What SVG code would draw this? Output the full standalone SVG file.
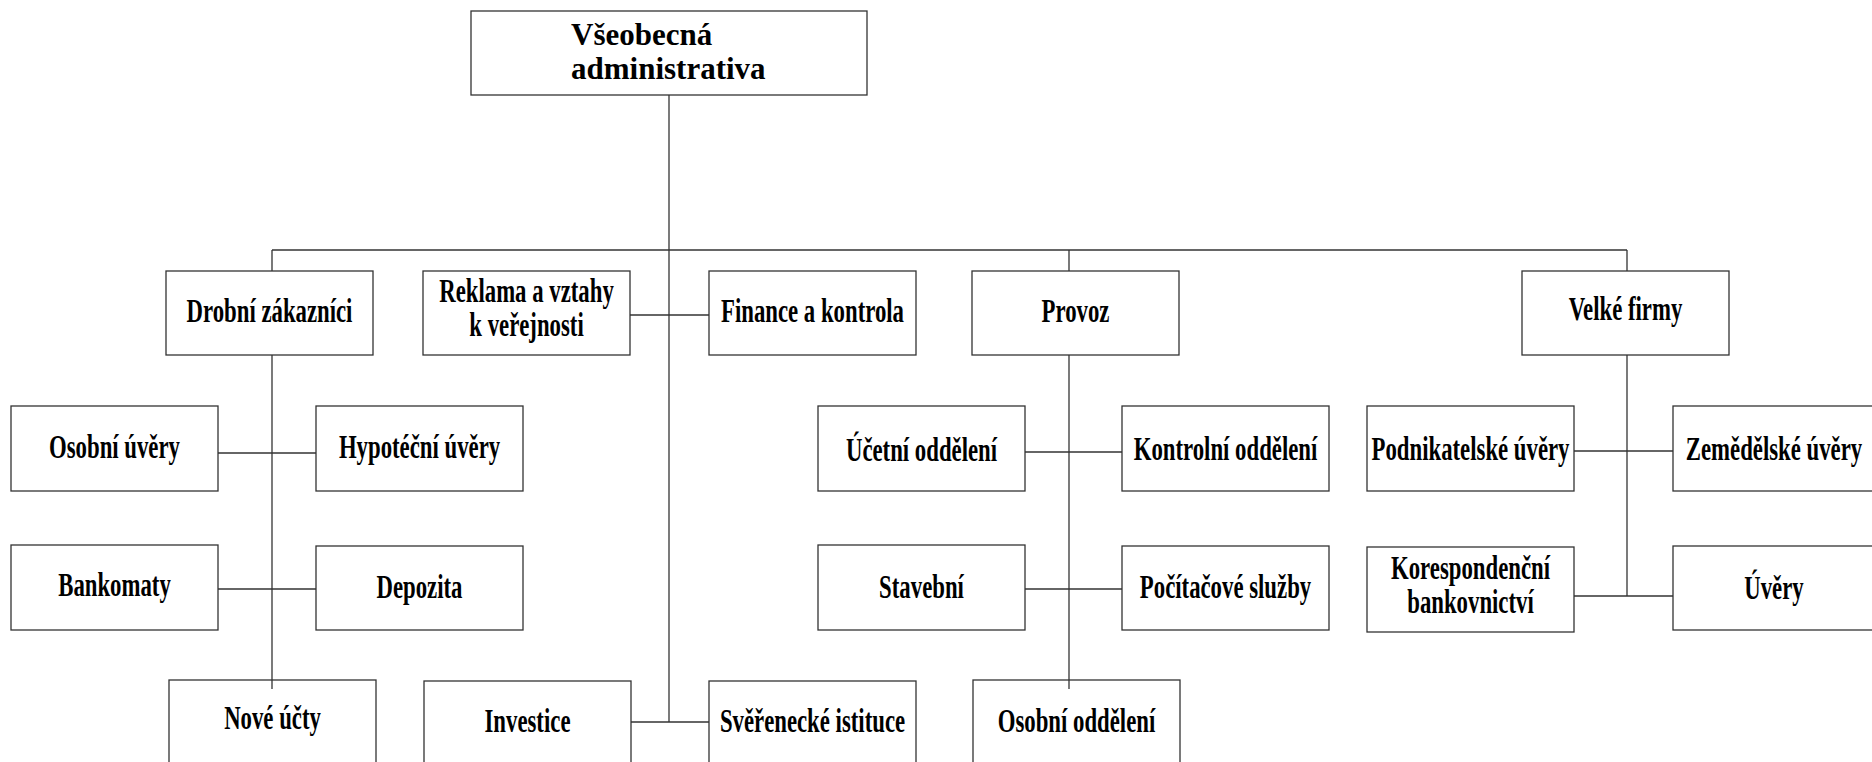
<svg xmlns="http://www.w3.org/2000/svg" width="1872" height="762" viewBox="0 0 1872 762">
<style>
.box{fill:#fff;stroke:#333;stroke-width:1.3}
.t{font-family:"Liberation Serif","Times New Roman",serif;font-weight:bold;font-size:33px;text-anchor:middle;fill:#000}
.tt{font-family:"Liberation Serif","Times New Roman",serif;font-weight:bold;font-size:31px;fill:#000}
.c{fill:none;stroke:#333;stroke-width:1.3}
</style>
<rect width="1872" height="762" fill="#fff"/>
<g id="n-vseobecna"><rect class="box" x="471" y="11" width="396" height="84"/><text class="tt" x="571" y="45">Všeobecná</text><text class="tt" x="571" y="79">administrativa</text></g>
<g id="n-drobni"><rect class="box" x="166" y="271" width="207" height="84"/><text class="t" transform="translate(269.5,322) scale(0.69,1)">Drobní zákazníci</text></g>
<g id="n-reklama"><rect class="box" x="423" y="271" width="207" height="84"/><text class="t" transform="translate(526.5,302) scale(0.69,1)">Reklama a vztahy</text><text class="t" transform="translate(526.5,336) scale(0.69,1)">k veřejnosti</text></g>
<g id="n-finance"><rect class="box" x="709" y="271" width="207" height="84"/><text class="t" transform="translate(812.5,322) scale(0.69,1)">Finance a kontrola</text></g>
<g id="n-provoz"><rect class="box" x="972" y="271" width="207" height="84"/><text class="t" transform="translate(1075.5,322) scale(0.69,1)">Provoz</text></g>
<g id="n-velke"><rect class="box" x="1522" y="271" width="207" height="84"/><text class="t" transform="translate(1625.5,320) scale(0.69,1)">Velké firmy</text></g>
<g id="n-osobni-uvery"><rect class="box" x="11" y="406" width="207" height="85"/><text class="t" transform="translate(114.5,458) scale(0.69,1)">Osobní úvěry</text></g>
<g id="n-hypotecni"><rect class="box" x="316" y="406" width="207" height="85"/><text class="t" transform="translate(419.5,458) scale(0.69,1)">Hypotéční úvěry</text></g>
<g id="n-ucetni"><rect class="box" x="818" y="406" width="207" height="85"/><text class="t" transform="translate(921.5,461) scale(0.69,1)">Účetní oddělení</text></g>
<g id="n-kontrolni"><rect class="box" x="1122" y="406" width="207" height="85"/><text class="t" transform="translate(1225.5,460) scale(0.69,1)">Kontrolní oddělení</text></g>
<g id="n-podnikatelske"><rect class="box" x="1367" y="406" width="207" height="85"/><text class="t" transform="translate(1470.5,460) scale(0.69,1)">Podnikatelské úvěry</text></g>
<g id="n-zemedelske"><rect class="box" x="1673" y="406" width="207" height="85"/><text class="t" transform="translate(1774,460) scale(0.69,1)">Zemědělské úvěry</text></g>
<g id="n-bankomaty"><rect class="box" x="11" y="545" width="207" height="85"/><text class="t" transform="translate(114.5,596) scale(0.69,1)">Bankomaty</text></g>
<g id="n-depozita"><rect class="box" x="316" y="546" width="207" height="84"/><text class="t" transform="translate(419.5,598) scale(0.69,1)">Depozita</text></g>
<g id="n-stavebni"><rect class="box" x="818" y="545" width="207" height="85"/><text class="t" transform="translate(921.5,598) scale(0.69,1)">Stavební</text></g>
<g id="n-pocitacove"><rect class="box" x="1122" y="546" width="207" height="84"/><text class="t" transform="translate(1225.5,598) scale(0.69,1)">Počítačové služby</text></g>
<g id="n-korespondencni"><rect class="box" x="1367" y="547" width="207" height="85"/><text class="t" transform="translate(1470.5,579) scale(0.69,1)">Korespondenční</text><text class="t" transform="translate(1470.5,613) scale(0.69,1)">bankovnictví</text></g>
<g id="n-uvery"><rect class="box" x="1673" y="546" width="207" height="84"/><text class="t" transform="translate(1774,599) scale(0.69,1)">Úvěry</text></g>
<g id="n-nove-ucty"><rect class="box" x="169" y="680" width="207" height="90"/><text class="t" transform="translate(272.5,729) scale(0.69,1)">Nové účty</text></g>
<g id="n-investice"><rect class="box" x="424" y="681" width="207" height="90"/><text class="t" transform="translate(527.5,732) scale(0.69,1)">Investice</text></g>
<g id="n-sverenecke"><rect class="box" x="709" y="681" width="207" height="90"/><text class="t" transform="translate(812.5,732) scale(0.69,1)">Svěřenecké istituce</text></g>
<g id="n-osobni-oddeleni"><rect class="box" x="973" y="680" width="207" height="90"/><text class="t" transform="translate(1076.5,732) scale(0.69,1)">Osobní oddělení</text></g>
<g id="connectors">
<path class="c" d="M669,95 V722"/>
<path class="c" d="M272,250 H1627"/>
<path class="c" d="M272,250 V271 M1069,250 V271 M1627,250 V271"/>
<path class="c" d="M272,355 V689"/>
<path class="c" d="M1069,355 V689"/>
<path class="c" d="M1627,355 V596"/>
<path class="c" d="M630,315 H709"/>
<path class="c" d="M218,453 H316"/>
<path class="c" d="M218,589 H316"/>
<path class="c" d="M631,722 H709"/>
<path class="c" d="M1025,452 H1122"/>
<path class="c" d="M1025,589 H1122"/>
<path class="c" d="M1574,451 H1673"/>
<path class="c" d="M1574,596 H1673"/>
</g>
</svg>
